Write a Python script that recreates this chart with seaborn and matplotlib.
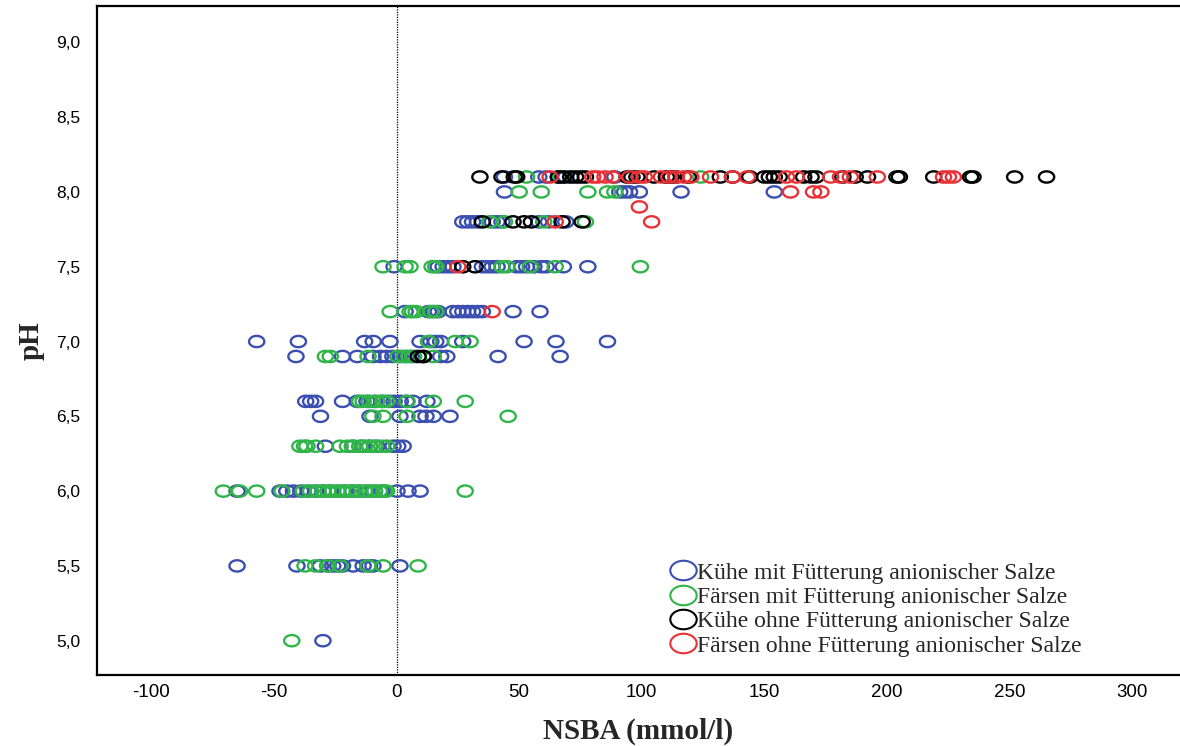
import numpy as np
import pandas as pd
import matplotlib
matplotlib.use("Agg")
import matplotlib.pyplot as plt
from matplotlib.path import Path
from matplotlib.lines import Line2D
from matplotlib.ticker import FuncFormatter
import seaborn as sns

# NSBA (mmol/l) readings per pH level, one table per animal group
kuehe_mit = {
    8.1: [44, 58, 61, 66, 69, 89],
    8.0: [44, 91, 93, 95, 99, 116, 154],
    7.8: [27, 29, 31, 33, 39, 41, 43, 58, 62, 69],
    7.5: [-1, 17, 19, 21, 23, 35, 37, 39, 41, 49, 51, 53, 56, 59, 61, 68, 78],
    7.2: [3.5, 13, 15, 17, 23, 25, 27, 29, 31, 33, 35, 47.5, 58.5],
    7.0: [-57, -40, -13, -9.5, -2.7, 9.6, 14, 16, 18, 27, 52, 65, 86],
    6.9: [-41, -22, -16, -9.6, -6.5, -4, -1.5, 1.5, 4, 6, 18, 20.5, 41.4, 66.7],
    6.6: [-37, -35, -33, -22, -16, -12, -9, -6, -3, -1, 1.5, 4, 6.7, 12.4],
    6.5: [-31, -10.8, 1.4, 9.6, 12, 15, 21.8],
    6.3: [-29, -17.7, -14, -11, -8, -1.4, 0.5, 2.7],
    6.0: [-65, -47.5, -44.7, -42, -39, -36, -33, -30, -27, -24, -21, -18,
          -15, -12, -9, -6, 0.2, 4.7, 9.6],
    5.5: [-65, -40.6, -31, -28, -26, -24, -22, -17.7, -13.6, -11, -9.6, 1.4],
    5.0: [-30],
}
faersen_mit = {
    8.1: [53, 67, 124],
    8.0: [50, 59, 78, 86, 89],
    7.8: [38, 44, 60, 77],
    7.5: [-5.5, 3.5, 5.5, 14.5, 16, 43, 45, 54.5, 64.7, 99.4],
    7.2: [-2.6, 5.5, 6.5, 8, 14, 16],
    7.0: [13, 24, 30],
    6.9: [-29, -27, -11.6, 0.5, 3, 5, 7, 15],
    6.6: [-15, -13.6, -11, -8, -5.5, -4, 4.3, 15, 28],
    6.5: [-9.6, -5.5, 4.3, 45.5],
    6.3: [-39.4, -37.5, -36.5, -33, -23, -20, -18, -15, -13, -11, -9, -6, -4],
    6.0: [-70.6, -64, -57, -46.7, -38, -35, -32, -30, -28, -26, -24, -22,
          -20, -18, -16, -13, -11, -9, -7, -5, -4, 28],
    5.5: [-37.3, -33, -28, -23, -11.6, -5.5, 8.8],
    5.0: [-42.7],
}
kuehe_ohne = {
    8.1: [34, 43, 48, 49, 66, 68, 71, 73, 75, 77, 94, 96, 98, 105, 110, 112,
          114, 119, 132, 137, 144, 150, 152, 154, 156, 166, 169, 171, 182,
          187, 192, 204, 205, 219, 234, 235, 252, 265],
    7.8: [35, 47.5, 52, 55, 67.5, 75.7],
    7.5: [27, 32],
    6.9: [8.8, 10.8, 11],
}
faersen_ohne = {
    8.1: [62.6, 80, 82, 85, 88, 95, 99, 101, 108, 111, 114, 117, 120, 128,
          137, 143, 159, 163, 177, 181, 185, 196, 223, 225, 227],
    8.0: [160.6, 170, 173],
    7.9: [99],
    7.8: [64.7, 104],
    7.5: [25],
    7.2: [39],
}

group_labels = [
    "Kühe mit Fütterung anionischer Salze",
    "Färsen mit Fütterung anionischer Salze",
    "Kühe ohne Fütterung anionischer Salze",
    "Färsen ohne Fütterung anionischer Salze",
]
group_tables = [kuehe_mit, faersen_mit, kuehe_ohne, faersen_ohne]
group_colors = ["#3a4fb0", "#2fb548", "#000000", "#ea3136"]

x_ticks = [-100, -50, 0, 50, 100, 150, 200, 250, 300]
y_ticks = [5.0, 5.5, 6.0, 6.5, 7.0, 7.5, 8.0, 8.5, 9.0]

rows = []
for label, table in zip(group_labels, group_tables):
    for ph, values in table.items():
        for v in values:
            rows.append({"NSBA": v, "pH": ph, "Gruppe": label})
df = pd.DataFrame(rows)

# Open ellipse marker (a bit wider than tall)
theta = np.linspace(0, 2 * np.pi, 60)
ellipse = Path(np.column_stack([np.cos(theta), 0.74 * np.sin(theta)]), closed=True)

sns.set_style("white")
plt.rcParams["font.family"] = ["Liberation Sans", "DejaVu Sans"]

fig = plt.figure(figsize=(11.8, 7.46), dpi=100)
ax = fig.add_axes([97 / 1180, 71.5 / 746, 1 - 97 / 1180, (674.5 - 6) / 746])

for label, color in zip(group_labels, group_colors):
    sub = df[df["Gruppe"] == label]
    sns.scatterplot(data=sub, x="NSBA", y="pH", ax=ax, marker=ellipse, s=120,
                    color=color, linewidth=1.7, legend=False)
    coll = ax.collections[-1]
    coll.set_facecolor("none")
    coll.set_edgecolor(color)
    coll.set_linewidth(1.7)

ax.axvline(0, color="black", linestyle=(0, (1, 1)), linewidth=0.9, zorder=0)

ax.set_xlim(-122.1, 319.4)
ax.set_ylim(4.774, 9.243)
ax.set_xticks(x_ticks)
ax.set_yticks(y_ticks)
ax.yaxis.set_major_formatter(FuncFormatter(lambda v, _: f"{v:.1f}".replace(".", ",")))
ax.xaxis.set_major_formatter(FuncFormatter(lambda v, _: f"{int(v)}"))
ax.tick_params(axis="both", direction="out", width=1.5,
               color="black", labelcolor="black")
ax.tick_params(axis="y", length=10, pad=2, labelsize=12.5)
ax.tick_params(axis="x", length=7, pad=0, labelsize=13.5)
for side in ["left", "bottom", "top"]:
    ax.spines[side].set_visible(True)
    ax.spines[side].set_color("black")
    ax.spines[side].set_linewidth(1.6)
ax.spines["right"].set_visible(False)

label_font = {"family": "Liberation Serif", "weight": "bold", "size": 21}
ax.set_xlabel("NSBA (mmol/l)", fontdict=label_font, labelpad=12)
ax.set_ylabel("pH", fontdict=label_font, labelpad=8)

handles = [Line2D([], [], linestyle="none", marker=ellipse, markersize=19,
                  markerfacecolor="none", markeredgecolor=c, markeredgewidth=1.5)
           for c in group_colors]
fig.legend(handles, group_labels, loc="upper left",
           bbox_to_anchor=(671 / 1180, 1 - 562 / 746), frameon=False,
           prop={"family": "Liberation Serif", "size": 17},
           handlelength=1.0, handletextpad=0.12, labelspacing=0.12,
           borderaxespad=0, borderpad=0)

fig.savefig("out.png", dpi=100)
